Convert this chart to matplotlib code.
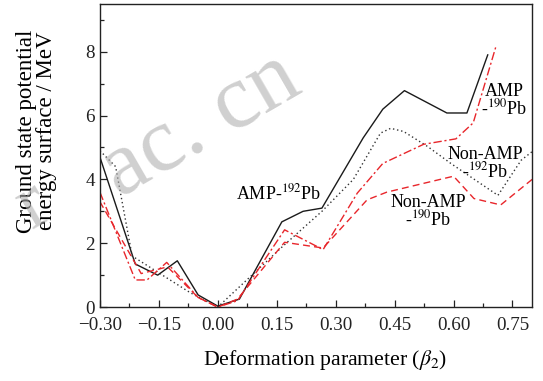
import matplotlib
matplotlib.use("Agg")
import matplotlib.pyplot as plt
from matplotlib.ticker import MultipleLocator

plt.rcParams['font.family'] = ['Liberation Serif', 'DejaVu Serif']
plt.rcParams['mathtext.fontset'] = 'stix'

# Data
amp192_x = [-0.30, -0.21, -0.153, -0.103, -0.05, 0.0, 0.055, 0.163, 0.217, 0.265, 0.37, 0.42, 0.475, 0.583, 0.634, 0.687]
amp192_y = [4.7, 1.35, 1.0, 1.45, 0.38, 0.03, 0.25, 2.67, 3.0, 3.1, 5.3, 6.2, 6.78, 6.08, 6.08, 7.9]

non192_x = [-0.30, -0.26, -0.218, -0.07, 0.0, 0.165, 0.265, 0.345, 0.414, 0.44, 0.473, 0.534, 0.593, 0.713, 0.772, 0.80]
non192_y = [4.9, 4.4, 1.6, 0.45, 0.0, 1.9, 3.0, 4.0, 5.45, 5.6, 5.5, 5.03, 4.5, 3.5, 4.6, 4.87]

amp190_x = [-0.30, -0.21, -0.18, -0.13, -0.05, 0.0, 0.05, 0.17, 0.268, 0.355, 0.42, 0.524, 0.606, 0.65, 0.708]
amp190_y = [3.6, 0.85, 0.85, 1.4, 0.3, 0.0, 0.2, 2.42, 1.8, 3.57, 4.5, 5.1, 5.27, 5.77, 8.17]

non190_x = [-0.30, -0.195, -0.128, -0.05, 0.0, 0.05, 0.17, 0.268, 0.38, 0.43, 0.60, 0.652, 0.72, 0.80]
non190_y = [3.3, 1.05, 1.26, 0.3, 0.0, 0.25, 2.03, 1.85, 3.36, 3.6, 4.1, 3.4, 3.2, 4.0]

xticks = [-0.30, -0.15, 0.00, 0.15, 0.30, 0.45, 0.60, 0.75]
xticklabels = ['\u22120.30', '\u22120.15', '0.00', '0.15', '0.30', '0.45', '0.60', '0.75']
yticks = [0, 2, 4, 6, 8]

black = '#1a1a1a'
red = '#e8262b'

fig = plt.figure(figsize=(5.43, 3.81), dpi=100)
ax = fig.add_axes([0.184, 0.194, 0.796, 0.796])

ax.plot(amp192_x, amp192_y, color=black, lw=1.0, ls='-')
ax.plot(non192_x, non192_y, color='#333333', lw=1.0, ls=(0, (1, 2)))
ax.plot(amp190_x, amp190_y, color=red, lw=1.0, ls=(0, (6, 2, 1.5, 2)))
ax.plot(non190_x, non190_y, color=red, lw=1.0, ls=(0, (5, 3)))

ax.set_xlim(-0.30, 0.80)
ax.set_ylim(0, 9.5)
ax.set_xticks(xticks)
ax.set_xticklabels(xticklabels)
ax.set_yticks(yticks)
ax.xaxis.set_minor_locator(MultipleLocator(0.075))
ax.yaxis.set_minor_locator(MultipleLocator(1))
ax.tick_params(which='both', direction='in', top=False, right=False, labelsize=13.7, colors='#222222')
ax.tick_params(axis='x', which='major', pad=7)
ax.tick_params(which='major', length=5, width=0.9)
ax.tick_params(which='minor', length=3, width=0.9)
for s in ax.spines.values():
    s.set_linewidth(1.0)
    s.set_color('#222222')

ax.set_xlabel('Deformation parameter ($\\beta_2$)', fontsize=15.7, va='center')
ax.xaxis.set_label_coords(0.52, -0.175)
ax.set_ylabel('Ground state potential\nenergy surface / MeV', fontsize=16.5, linespacing=0.95, va='center')
ax.yaxis.set_label_coords(-0.146, 0.58)

ax.text(0.155, 3.55, 'AMP-$^{192}$Pb', fontsize=13, ha='center', va='center')
ax.text(0.73, 6.45, 'AMP\n-$^{190}$Pb', fontsize=13, ha='center', va='center', linespacing=0.9)
ax.text(0.68, 4.5, 'Non-AMP\n-$^{192}$Pb', fontsize=13, ha='center', va='center', linespacing=0.9)
ax.text(0.535, 3.0, 'Non-AMP\n-$^{190}$Pb', fontsize=13, ha='center', va='center', linespacing=0.9)

# watermark
fig.text(0.37, 0.67, 'ac. cn', fontsize=66, color='#b0b0b0', alpha=0.6, rotation=30,
         ha='center', va='center')
fig.text(0.06, 0.46, 'r', fontsize=56, color='#b0b0b0', alpha=0.6, rotation=30,
         ha='center', va='center')

fig.savefig('out.png', dpi=100)
